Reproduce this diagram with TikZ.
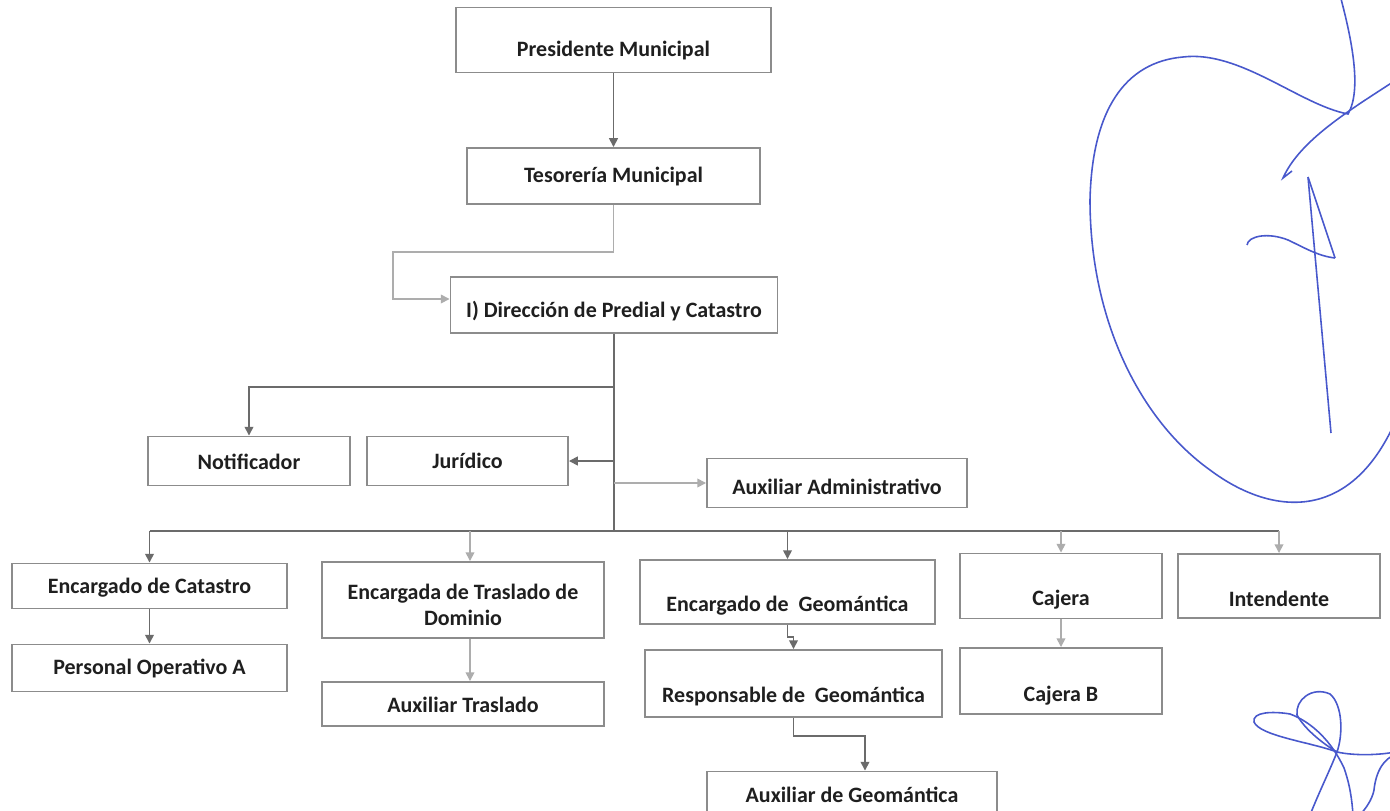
\documentclass[tikz,border=0pt]{standalone}
\usepackage{fontspec}
\setmainfont{Carlito}
\usetikzlibrary{arrows.meta,calc}

\definecolor{sigblue}{RGB}{72,88,204}
\def\px{0.02cm}

\tikzset{
  orgbox/.style={draw=black!45, line width=1.1pt, fill=white, inner sep=0pt},
  orgtext/.style={font=\bfseries\fontsize{12.5}{15}\selectfont, text=black!88, align=center, inner sep=0pt},
  dk/.style={draw=black!58, line width=0.9pt},
  lt/.style={draw=black!32, line width=0.9pt},
  tip/.style={-{Triangle[length=5pt,width=5pt]}},
  sig/.style={draw=sigblue, line width=0.9pt}
}

% name, x, y, width, height, text offset, text
\newcommand{\orgbox}[7]{%
  \node[orgbox, minimum width=#4*\px, minimum height=#5*\px] (#1) at (#2,#3) {};
  \node[orgtext] (#1-t) at ([yshift=-#6*\px]#1.center) {#7};
}

\begin{document}
\begin{tikzpicture}[x=0.02cm, y=-0.02cm]
  \clip (0,0) rectangle (1390,811);
  \fill[white] (0,0) rectangle (1390,811);

  % boxes
  \orgbox{pres}{613.5}{40}{315}{65}{11}{Presidente Municipal}
  \orgbox{tes}{613.5}{176}{293}{56}{1}{Tesorería Municipal}
  \orgbox{dir}{614}{305}{327}{56}{6}{I) Dirección de Predial y Catastro}
  \orgbox{notif}{249}{461}{202}{49}{1}{Notificador}
  \orgbox{jur}{467.5}{461}{201}{49}{0}{Jurídico}
  \orgbox{auxadm}{837}{483}{260}{49}{4}{Auxiliar Administrativo}
  \orgbox{encat}{149.5}{586}{275}{45}{2}{Encargado de Catastro}
  \orgbox{perop}{149.5}{668}{275}{47}{1}{Personal Operativo A}
  \orgbox{entras}{463}{600}{282}{76}{5}{Encargada de Traslado de\\Dominio}
  \orgbox{auxtras}{463}{704}{282}{44}{1}{Auxiliar Traslado}
  \orgbox{engeo}{787.5}{592}{295}{64}{14}{Encargado de\ \ Geomántica}
  \orgbox{respgeo}{793.5}{683.5}{297}{67}{13}{Responsable de\ \ Geomántica}
  \orgbox{auxgeo}{852}{805}{290}{67}{-10}{Auxiliar de Geomántica}
  \orgbox{caj}{1061}{586}{202}{65}{14}{Cajera}
  \orgbox{cajb}{1061}{681}{202}{66}{15}{Cajera B}
  \orgbox{inte}{1279}{586}{202}{64}{13}{Intendente}

  % connectors
  \coordinate (k1) at (393,252);
  \coordinate (t1) at (614,387);
  \coordinate (t2) at (614,531);
  \draw[dk,tip] (pres) -- (tes);
  \draw[lt,tip] (tes.south) |- (k1) |- ([yshift=0.12cm]dir.west);
  \draw[dk] (dir.south) -- (t2);
  \draw[dk,tip] (t1) -| (notif.north);
  \draw[dk,tip] (jur.east -| t1) -- (jur.east);
  \draw[lt,tip] (auxadm.west -| t1) -- (auxadm.west);
  \draw[dk] (encat.north |- t2) -- (inte.north |- t2);
  \draw[dk,tip] (encat.north |- t2) -- (encat.north);
  \draw[lt,tip] ([xshift=0.14cm]entras.north |- t2) -- ([xshift=0.14cm]entras.north);
  \draw[dk,tip] (engeo.north |- t2) -- (engeo.north);
  \draw[lt,tip] (caj.north |- t2) -- (caj.north);
  \draw[lt,tip] (inte.north |- t2) -- (inte.north);
  \draw[dk,tip] (encat) -- (perop);
  \draw[lt,tip] ([xshift=0.14cm]entras.south) -- ([xshift=0.14cm]auxtras.north);
  \draw[lt,tip] (caj) -- (cajb);
  \draw[dk,tip] (engeo.south) -- ++(0,12) -| (respgeo.north);
  \draw[dk,tip] (respgeo.south) -- ++(0,18) -| ([xshift=0.26cm]auxgeo.north);

  % signature
  \draw[sig] (1340,-5) .. controls (1352,40) and (1362,90) .. (1348,114)
    .. controls (1300,105) and (1240,50) .. (1183,57)
    .. controls (1125,62) and (1092,110) .. (1090,200)
    .. controls (1090,320) and (1140,420) .. (1210,470)
    .. controls (1270,515) and (1350,525) .. (1396,420);
  \draw[sig] (1396,80) .. controls (1350,110) and (1300,140) .. (1283,178)
    -- (1292,171);
  \draw[sig] (1308,177) -- (1331,433);
  \draw[sig] (1308,177) -- (1335,258);
  \draw[sig] (1247,245) .. controls (1248,236) and (1268,232) .. (1288,240)
    .. controls (1305,248) and (1318,256) .. (1335,258);
  \draw[sig] (1310,815) .. controls (1320,790) and (1330,770) .. (1337,752)
    .. controls (1343,735) and (1343,705) .. (1330,694)
    .. controls (1312,686) and (1295,700) .. (1297,715)
    .. controls (1305,730) and (1325,745) .. (1337,752)
    .. controls (1355,756) and (1380,755) .. (1395,752);
  \draw[sig] (1337,752) .. controls (1310,742) and (1260,736) .. (1254,722)
    .. controls (1252,712) and (1272,711) .. (1290,714)
    .. controls (1312,722) and (1332,742) .. (1344,768)
    .. controls (1350,785) and (1352,800) .. (1353,815);
  \draw[sig] (1395,755) .. controls (1385,758) and (1376,770) .. (1374,790)
    .. controls (1372,800) and (1366,808) .. (1360,815);
\end{tikzpicture}
\end{document}
